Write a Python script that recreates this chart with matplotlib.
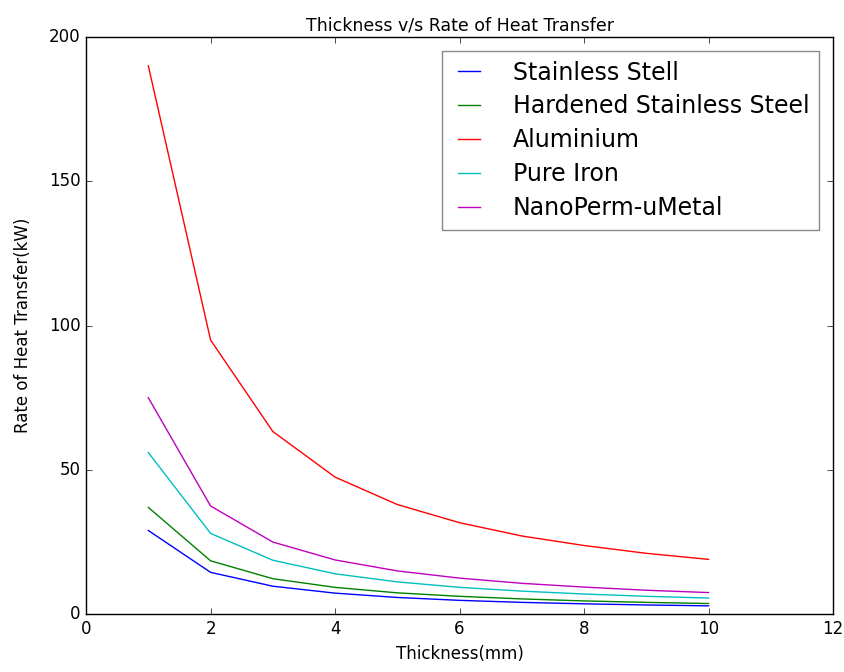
import matplotlib
matplotlib.use('Agg')
from matplotlib import pyplot as plt

plt.style.use('classic')

# thickness in mm
thickness = [1, 2, 3, 4, 5, 6, 7, 8, 9, 10]

# rate of heat transfer (kW)
stainless = [29, 14.5, 9.7, 7.3, 5.8, 4.8, 4.1, 3.6, 3.2, 2.9]
hardened = [37, 18.5, 12.3, 9.3, 7.4, 6.2, 5.3, 4.6, 4.1, 3.7]
aluminium = [190, 95, 63.3, 47.5, 38, 31.7, 27.1, 23.8, 21.1, 19]
pure_iron = [56, 28, 18.7, 14, 11.2, 9.3, 8, 7, 6.2, 5.6]
nanoperm = [75, 37.5, 25, 18.8, 15, 12.5, 10.7, 9.4, 8.3, 7.5]

labels = ['Stainless Stell', 'Hardened Stainless Steel', 'Aluminium',
          'Pure Iron', 'NanoPerm-uMetal']

fig = plt.figure(figsize=(8.44, 6.72), dpi=100, facecolor='white')
ax = fig.add_axes([0.102, 0.086, 0.885, 0.859])

ax.plot(thickness, stainless, color='b', linewidth=1, label=labels[0])
ax.plot(thickness, hardened, color='g', linewidth=1, label=labels[1])
ax.plot(thickness, aluminium, color='r', linewidth=1, label=labels[2])
ax.plot(thickness, pure_iron, color='c', linewidth=1, label=labels[3])
ax.plot(thickness, nanoperm, color='m', linewidth=1, label=labels[4])

ax.set_xlim(0, 12)
ax.set_ylim(0, 200)
ax.set_xticks([0, 2, 4, 6, 8, 10, 12])
ax.set_yticks([0, 50, 100, 150, 200])
ax.set_xlabel('Thickness(mm)', fontsize=12)
ax.set_ylabel('Rate of Heat Transfer(kW)', fontsize=12, labelpad=12)
ax.set_title('Thickness v/s Rate of Heat Transfer', fontsize=12.5)

leg = ax.legend(loc='upper right', fontsize=17, frameon=True,
                labelspacing=0.42, handlelength=1.5, handletextpad=1.1,
                borderpad=0.4, borderaxespad=0.6)
leg.get_frame().set_edgecolor('#888888')

fig.savefig('out.png', dpi=100, facecolor='white')
